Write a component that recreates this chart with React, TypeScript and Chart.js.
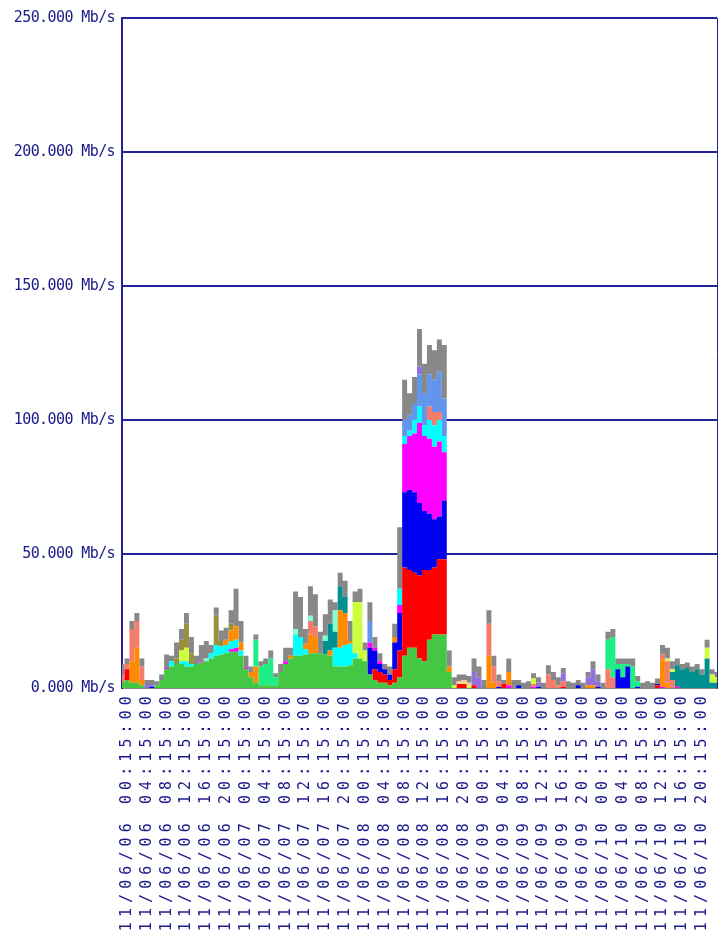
import React, { useEffect, useRef } from 'react';
import { Chart, registerables } from 'chart.js';

Chart.register(...registerables);

// Tick labels shown every 4 hours (one point per hour, 121 points, starting 11/06/05 23:15)
const TICK_LABELS = [
  '11/06/06 00:15:00', '11/06/06 04:15:00', '11/06/06 08:15:00', '11/06/06 12:15:00', '11/06/06 16:15:00', '11/06/06 20:15:00',
  '11/06/07 00:15:00', '11/06/07 04:15:00', '11/06/07 08:15:00', '11/06/07 12:15:00', '11/06/07 16:15:00', '11/06/07 20:15:00',
  '11/06/08 00:15:00', '11/06/08 04:15:00', '11/06/08 08:15:00', '11/06/08 12:15:00', '11/06/08 16:15:00', '11/06/08 20:15:00',
  '11/06/09 00:15:00', '11/06/09 04:15:00', '11/06/09 08:15:00', '11/06/09 12:15:00', '11/06/09 16:15:00', '11/06/09 20:15:00',
  '11/06/10 00:15:00', '11/06/10 04:15:00', '11/06/10 08:15:00', '11/06/10 12:15:00', '11/06/10 16:15:00', '11/06/10 20:15:00',
];

const Y_TICKS = [0, 50, 100, 150, 200, 250];

// Series values in Mb/s, hourly
const GREEN = [
  2, 3, 2, 2, 1, 0, 0, 1, 3, 7,
  8, 9, 9, 8, 8, 9, 9.5, 10, 11, 12,
  12.5, 13, 13.5, 13.5, 12, 7, 4, 2, 1, 1,
  1, 1, 6, 9, 11, 12, 12, 12.5, 13, 13,
  13, 12.5, 12, 8, 8, 8, 8.5, 11, 11, 10,
  5, 3, 2, 2, 1, 2, 4, 12, 15, 15,
  11, 10, 18, 20, 20, 20, 6, 0, 0, 0,
  0, 0, 0, 0, 0, 0, 0, 0, 0, 0,
  0, 0, 0, 0, 0, 0, 0, 0, 0, 0,
  0, 0, 0, 0, 0, 0, 0, 0, 0, 0,
  0, 0, 0, 0, 0, 0, 0, 0, 0, 0,
  0, 0, 0, 0, 0, 0, 0, 0, 0, 0,
  0,
];
const RED = [
  0, 4, 0, 0, 0, 0, 0, 0, 0, 0,
  0, 0, 0, 0, 0, 0, 0, 0, 0, 0,
  0, 0, 0, 0, 0, 0, 0, 0, 0, 0,
  0, 0, 0, 0, 0, 0, 0, 0, 0, 0,
  0, 0, 0, 0, 0, 0, 0, 0, 0, 0,
  0, 4, 4, 3, 2, 5, 10, 33, 29, 28,
  31, 34, 26, 25, 28, 28, 0, 0, 1.5, 1.5,
  0, 1, 0, 0, 0, 0, 0, 1.5, 0, 0,
  0, 0, 0, 0, 0, 0, 0, 0, 0, 0.5,
  0, 0, 0, 0, 0, 0, 0, 0, 0, 0,
  0, 0, 0, 0, 0, 0, 0, 0, 1, 0,
  0, 0, 0, 0, 0, 0, 0, 0, 0, 0,
  0,
];
const BLUE = [
  0, 0, 0, 0, 0, 0, 0.5, 0, 0, 0,
  0, 0, 0, 0, 0, 0, 0, 0, 0, 0,
  0, 0, 0, 0, 0, 0, 0, 0, 0, 0,
  0, 0, 0, 0, 0, 0, 0, 0, 0, 0,
  0, 0, 0, 0, 0, 0, 0, 0, 0, 0,
  10, 7, 3, 2, 2, 10, 14, 28, 30, 30,
  27, 22, 21, 18, 16, 22, 0, 0, 0, 0,
  0, 0, 0, 0, 0, 0, 0.5, 0, 0, 0,
  1, 0, 0, 0, 0.5, 0, 0, 0, 0, 0,
  0, 0, 1, 0, 0, 0, 0.5, 0, 0, 0,
  7, 4, 8, 0, 0.5, 0, 0, 0, 0.5, 0,
  0, 0, 0, 0, 0, 0, 0, 0, 0, 0,
  0,
];
const MAGENTA = [
  0, 0, 0, 0, 0, 0, 0, 0, 0, 0.5,
  0, 0, 0, 0, 0, 0, 0.5, 0, 0, 0,
  0, 0, 1, 1.5, 0, 0.5, 0, 0, 0, 0,
  0, 0, 0, 1, 0, 0, 0, 0, 0, 0,
  0, 0, 0, 0, 0, 0, 0, 0, 0, 0,
  2, 1, 1, 0, 0, 0, 3, 18, 20, 22,
  30, 28, 28, 27, 28, 18, 0, 0, 0, 0,
  0, 0, 0, 0, 0, 0, 0, 0, 1, 0,
  0, 0, 0, 0.5, 0, 0, 0, 0, 0, 0,
  0, 0, 0, 0, 0, 0, 0, 0, 0, 0,
  0, 0, 0, 0, 0, 0, 0, 0, 0, 0.5,
  0, 0, 0.5, 0, 0, 0, 0, 0, 0, 0,
  0,
];
const CYAN = [
  0, 0, 0, 0, 0, 0, 0, 0, 0, 0,
  2, 0, 1, 2, 1, 0, 0, 0, 2, 4,
  3, 3, 3, 3, 2, 0, 0, 0, 0, 0,
  0, 0, 0, 0, 0, 8, 7, 2, 0, 0,
  0, 0, 0, 7, 7, 8, 8, 2, 0, 0,
  0, 0, 0, 0, 0, 0, 6, 3, 2, 5,
  6, 4, 7, 8, 8, 6, 0, 0, 0, 0,
  0, 0, 0, 0, 0, 0, 0, 0, 0, 0,
  0, 0, 0, 0, 0, 0, 0, 0, 0, 0,
  0, 0, 0, 0, 0, 0, 0, 0, 0, 0,
  0, 0, 0, 0, 0, 0, 0, 0, 0, 0,
  0, 0, 0, 0, 0, 0, 0, 0, 0, 0,
  0,
];
const ORANGE = [
  0, 0, 8, 13, 2, 0, 0, 0, 0, 0,
  0, 0, 0, 0, 0, 0, 0, 0, 0, 0,
  0, 2, 4, 5, 3, 0, 2, 6, 0, 0,
  0, 0, 0, 0, 1, 0, 0, 2, 7, 6,
  0, 0, 2, 0, 14, 12, 1, 0, 0, 0,
  0, 0, 0, 0, 0, 2, 0, 0, 0, 0,
  0, 0, 0, 0, 0, 0, 2, 0, 0, 0,
  0, 0, 0, 0, 12, 2, 0, 0, 5, 0,
  0, 0, 0, 0, 0, 0, 0, 0, 0, 0,
  0, 0, 0, 0, 1, 1, 0, 0, 0, 0,
  0, 0, 0, 0, 0, 0, 0, 0, 0, 10,
  2, 0, 0, 0, 0, 0, 0, 0, 0, 0,
  0,
];
const SALMON = [
  3, 2, 12, 10, 5, 0, 0, 0, 0, 0,
  0, 0, 0, 0, 0, 0, 0, 0, 0, 0,
  0, 0, 0, 0, 0, 0, 0, 0, 0, 0,
  0, 0, 0, 0, 0, 0, 0, 0, 5, 4,
  0, 0, 0, 0, 0, 0, 0, 0, 0, 0,
  0, 0, 0, 0, 0, 0, 0, 0, 0, 0,
  0, 0, 5, 5, 3, 0, 0, 0, 0, 0,
  0, 0, 0, 0, 12, 6, 2, 0, 0, 0,
  0, 0, 0, 1, 0, 0, 5, 3, 1, 2,
  0, 0, 0, 0, 0, 0, 0, 0, 7, 4,
  0, 0, 0, 0, 0, 0, 0, 0, 0, 2,
  8, 3, 0, 0, 0, 0, 0, 0, 0, 0,
  0,
];
const SPRING = [
  0, 0, 0, 0, 0, 0, 0, 0, 0, 0,
  0, 0, 0, 0, 0, 0, 0, 0, 0, 0,
  0, 0, 0, 0, 0, 0, 0, 10, 7, 8,
  10, 3, 0, 0, 0, 0, 0, 0, 0, 0,
  0, 0, 0, 0, 0, 0, 0, 0, 0, 0,
  0, 0, 0, 0, 0, 0, 0, 0, 0, 0,
  0, 0, 0, 0, 0, 0, 0, 0, 0, 0,
  0, 0, 0, 0, 0, 0, 0, 0, 0, 0,
  0, 0, 0, 0, 0, 0, 0, 0, 0, 0,
  0, 0, 0, 0, 0, 0, 0, 0, 11, 15,
  2, 5, 1, 8, 2, 0, 0, 0, 0, 0,
  0, 0, 0, 0, 0, 0, 0, 0, 0, 0,
  0,
];
const TEAL = [
  0, 0, 0, 0, 0, 0, 0, 0, 0, 0,
  0, 0, 0, 0, 0, 0, 0, 0, 0, 0,
  0, 0, 0, 0, 0, 0, 0, 0, 0, 0,
  0, 0, 0, 0, 0, 0, 0, 0, 0, 0,
  0, 5, 10, 6, 9, 6, 0, 0, 0, 0,
  0, 0, 0, 0, 0, 0, 0, 0, 0, 0,
  0, 0, 0, 0, 0, 0, 0, 0, 0, 0,
  0, 0, 0, 0, 0, 0, 0, 0, 0, 0,
  0, 0, 0, 0, 0, 0, 0, 0, 0, 0,
  0, 0, 0, 0, 0, 0, 0, 0, 0, 0,
  0, 0, 0, 0, 0, 0, 0, 0, 0, 0,
  0, 3, 8, 7, 7.5, 6, 7, 5, 11, 2,
  2,
];
const LIME = [
  0, 0, 0, 0, 0, 0, 0, 0, 0, 0,
  0, 0, 4, 5, 0, 0, 0, 0, 0, 0,
  0, 0, 0, 0, 0, 0, 0, 0, 0, 0,
  0, 0, 0, 0, 0, 0, 0, 0, 0, 0,
  0, 0, 0, 0, 0, 0, 0, 19, 21, 4,
  0, 0, 0, 0, 0, 0, 0, 0, 0, 0,
  0, 0, 0, 0, 0, 0, 0, 1, 0, 0.5,
  1, 0, 0, 0, 0, 0, 0, 0, 0, 0,
  0, 0, 0, 2, 0, 0, 0, 0, 0, 0,
  0, 0, 0, 0, 0, 0, 0, 0, 0, 0,
  0, 0, 0, 0, 0, 0, 0, 0, 0, 0,
  1, 1, 0, 0, 0, 0, 0, 0, 4, 3,
  2,
];
const OLIVE = [
  0, 0, 0, 0, 0, 0, 0, 0, 0, 0,
  0, 2, 4, 9, 4, 0, 0, 0, 0, 11,
  2, 0, 2.5, 0, 0, 0, 0, 0, 0, 0,
  0, 0, 0, 0, 0, 0, 0, 0, 0, 0,
  0, 0, 0, 0, 0, 0, 0, 0, 0, 0,
  0, 0, 0, 0, 0, 0, 0, 0, 0, 0,
  0, 0, 0, 0, 0, 0, 0, 0, 0, 0,
  0, 0, 0, 0, 0, 0, 0, 0, 0, 0,
  0, 0, 0, 0, 0, 0, 0, 0, 0, 0,
  0, 0, 0, 0, 0, 0, 0, 0, 0, 0,
  0, 0, 0, 0, 0, 0, 0, 0, 0, 0,
  0, 0, 0, 0, 0, 0, 0, 0, 0, 0,
  0,
];
const AQUA = [
  0, 0, 0, 0, 0, 0, 0, 0, 0, 0,
  0, 0, 0, 0, 0, 0, 0, 1, 0, 0,
  0, 0, 0, 0, 0, 0, 0, 0, 0, 0,
  0, 0, 0, 0, 0, 2, 0, 0, 2, 0,
  0, 2, 0, 8, 0, 0, 0, 0, 0, 0,
  0, 0, 0, 0, 0, 0, 0, 0, 0, 0,
  0, 0, 0, 0, 0, 0, 0, 0, 0, 0,
  0, 0, 0, 0, 0, 0, 0, 0, 0, 0,
  0, 0, 0, 0, 0, 0, 0, 0, 0, 0,
  0, 0, 0, 0, 0, 0, 0, 0, 0, 0,
  0, 0, 0, 0, 0, 0, 0, 0, 0, 0,
  0, 0, 0, 0, 0, 0, 0, 0, 0, 0,
  0,
];
const CORNFLOWER = [
  0, 0, 0, 0, 0, 0, 0, 0, 0, 0,
  0, 0, 0, 0, 0, 0, 0, 0, 0, 0,
  0, 0, 0, 0, 0, 0, 0, 0, 0, 0,
  0, 0, 0, 0, 0, 0, 0, 0, 0, 0,
  0, 0, 0, 0, 0, 0, 0, 0, 0, 0,
  8, 0, 0, 0, 0, 0, 0, 6, 6, 6,
  12, 12, 12, 12, 15, 14, 0, 0, 0, 0,
  0, 0, 0, 0, 0, 0, 0, 0, 0, 0,
  0, 0, 0, 0, 0, 0, 0, 0, 0, 0,
  0, 0, 0, 0, 0, 0, 0, 0, 0, 0,
  0, 0, 0, 0, 0, 0, 0, 0, 0, 0,
  0, 0, 0, 0, 0, 0, 0, 0, 0, 0,
  0,
];
const PURPLE = [
  0, 0, 0, 0, 0, 1.5, 1, 0, 0, 0,
  0, 0, 0, 0, 0, 0, 0, 0, 0, 0,
  0, 0, 0, 0, 0, 0, 0, 0, 0, 0,
  0, 0, 0, 0, 0, 0, 0, 0, 0, 0,
  0, 0, 0, 0, 0, 0, 0, 0, 0, 0,
  0, 0, 0, 0, 0, 0, 0, 0, 0, 0,
  3, 0, 0, 0, 0, 0, 0, 0, 0, 0,
  0, 5, 4, 0, 0, 0, 0, 0, 0, 0,
  0, 0, 0, 0, 1.5, 0, 0, 0, 0, 3,
  0, 0, 0, 0, 3, 6, 2, 0, 0, 0,
  0, 0, 0, 0, 0, 0, 0, 0, 0, 0,
  0, 0, 0, 0, 0, 0, 0, 0, 0, 0,
  0,
];
const PEACH = [
  0, 0, 0, 0, 0, 0, 0, 0, 0, 0,
  0, 0, 0, 0, 0, 0, 0, 0, 0, 0,
  0, 0, 0, 0, 0, 0, 0, 0, 0, 0,
  0, 0, 0, 0, 0, 0, 0, 0, 0, 0,
  0, 0, 0, 0, 0, 0, 0, 0, 0, 0,
  0, 0, 0, 0, 0, 0, 0, 0, 0, 0,
  0, 0, 0, 0, 0, 0, 0, 0, 1, 1,
  1, 0, 0, 0, 0, 0, 0, 0, 0, 0,
  0, 0, 0, 0, 0, 0, 0, 0, 0, 0,
  0, 0, 0, 0, 0, 0, 0, 0, 0, 0,
  0, 0, 0, 0, 0, 0, 0, 0, 0, 0,
  0, 0, 0, 0, 0, 0, 0, 0, 0, 0,
  0,
];
const GRAY = [
  4, 2, 3, 3, 3, 1.5, 1.5, 1.5, 2, 5,
  2, 6, 4, 4, 6, 3, 6, 6.5, 3, 3,
  4, 4.5, 5, 14, 8, 4.5, 2, 2, 2, 2,
  3, 1.5, 3, 5, 3, 14, 15, 5.5, 11, 12,
  8, 8, 9, 3, 5, 6, 7.5, 4, 5, 3,
  7, 4, 3, 2, 3, 5, 23, 15, 8, 10,
  14, 11, 11, 11, 12, 20, 6, 3, 2.5, 2,
  2.5, 5, 4, 3, 5, 4, 2.5, 1.5, 5, 3,
  2, 2, 2.5, 2, 2, 2, 3.5, 3, 3, 2,
  2.5, 2, 2, 2, 2, 3, 2.5, 2, 3, 3,
  2, 2, 2, 3, 2, 2, 2.5, 2, 2, 3.5,
  4, 3, 2.5, 2, 2, 2, 2, 2, 3, 2,
  2,
];

const SERIES: { name: string; data: number[]; color: string }[] = [
  { name: 'green', data: GREEN, color: '#44c844' },
  { name: 'red', data: RED, color: '#ff0000' },
  { name: 'blue', data: BLUE, color: '#0000f0' },
  { name: 'magenta', data: MAGENTA, color: '#ff00ff' },
  { name: 'cyan', data: CYAN, color: '#00ffff' },
  { name: 'orange', data: ORANGE, color: '#ff8c00' },
  { name: 'salmon', data: SALMON, color: '#f47c6c' },
  { name: 'springgreen', data: SPRING, color: '#1eee86' },
  { name: 'teal', data: TEAL, color: '#009090' },
  { name: 'lime', data: LIME, color: '#ccff40' },
  { name: 'olive', data: OLIVE, color: '#99903c' },
  { name: 'aquamarine', data: AQUA, color: '#80ffd0' },
  { name: 'cornflower', data: CORNFLOWER, color: '#6495ed' },
  { name: 'purple', data: PURPLE, color: '#9370db' },
  { name: 'peach', data: PEACH, color: '#ffcc99' },
  { name: 'other', data: GRAY, color: '#888888' },
];

const NAVY = '#22229a';
const TEXT = '#1a1a8a';

const letterSpacingPlugin = {
  id: 'letterSpacingLabels',
  afterLayout(chart: any) {
    const apply = (id: string, spacing: string) => {
      const sc = chart.scales[id];
      if (!sc || sc.__spaced) return;
      const orig = sc.drawLabels;
      sc.drawLabels = function (area: any) {
        const ctx = this.ctx;
        ctx.save();
        (ctx as any).letterSpacing = spacing;
        orig.call(this, area);
        ctx.restore();
      };
      sc.__spaced = true;
    };
    apply('x', '5.1px');
    apply('y', '-0.6px');
  },
};

export default function App() {
  const ref = useRef<HTMLCanvasElement>(null);

  useEffect(() => {
    if (!ref.current) return;
    const n = GREEN.length;
    const labels = Array.from({ length: n }, (_, i) => (i % 4 === 1 ? TICK_LABELS[(i - 1) / 4] || '' : ''));
    const chart = new Chart(ref.current, {
      type: 'line',
      data: {
        labels,
        datasets: SERIES.map((s, i) => ({
          label: s.name,
          data: s.data,
          backgroundColor: s.color,
          borderColor: s.color,
          borderWidth: 0,
          pointRadius: 0,
          pointHoverRadius: 0,
          stepped: 'middle' as const,
          fill: i === 0 ? 'origin' : '-1',
        })),
      },
      options: {
        animation: false,
        responsive: false,
        events: [],
        plugins: {
          legend: { display: false },
          tooltip: { enabled: false },
        },
        layout: { padding: { top: 18, right: 1, bottom: 0, left: 0 } },
        scales: {
          x: {
            grid: { display: false, drawTicks: false },
            border: { color: '#888888', width: 2 },
            ticks: {
              autoSkip: false,
              maxRotation: 90,
              minRotation: 90,
              padding: 3,
              color: TEXT,
              font: { family: 'DejaVu Sans Mono', size: 15 },
            },
            afterFit: (s: any) => {
              s.height = 244;
              s.paddingLeft = 0;
              s.paddingRight = 0;
            },
          },
          y: {
            stacked: true,
            min: 0,
            max: 250,
            afterBuildTicks: (s: any) => {
              s.ticks = Y_TICKS.map((v) => ({ value: v }));
            },
            ticks: {
              padding: 7,
              color: TEXT,
              font: { family: 'DejaVu Sans Mono', size: 15 },
              callback: (v: any) => Number(v).toFixed(3) + ' Mb/s',
            },
            grid: { color: NAVY, lineWidth: 2, drawTicks: false },
            border: { color: NAVY, width: 2 },
            afterFit: (s: any) => {
              s.width = 122;
            },
          },
          yr: {
            position: 'right',
            ticks: { display: false },
            grid: { display: false, drawTicks: false },
            border: { color: NAVY, width: 1 },
            afterFit: (s: any) => {
              s.width = 0;
            },
          },
        },
      } as any,
      plugins: [letterSpacingPlugin],
    });
    return () => chart.destroy();
  }, []);

  return (
    <div style={{ position: 'fixed', left: 0, top: 0, width: 718, height: 932, background: '#ffffff' }}>
      <canvas ref={ref} width={718} height={932} style={{ display: 'block', width: 718, height: 932 }} />
    </div>
  );
}
